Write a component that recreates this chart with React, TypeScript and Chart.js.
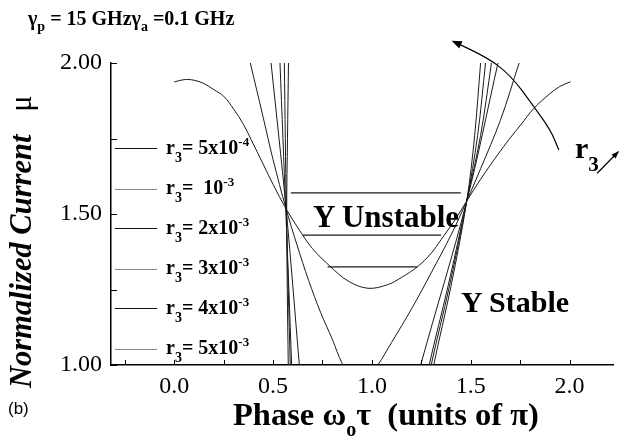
import React, { useEffect, useRef } from 'react';
import { Chart, registerables } from 'chart.js';

Chart.register(...registerables);

const SERIF = '"Liberation Serif", "Times New Roman", serif';
const SANS = '"Liberation Sans", Arial, sans-serif';

// ---- axis ticks ----
const xTickValues = [-0.25, 0, 0.25, 0.5, 0.75, 1, 1.25, 1.5, 1.75, 2];
const yTickValues = [1, 1.25, 1.5, 1.75, 2];

// ---- curves (phase in units of pi, normalized current) ; null = break between branches ----
// r3 = 5x10^-4
const r3_5e4_x = [0.578, 0.578, 0.573, 0.569, 0.572, 0.577, 0.578, 0.95, 1.31, 1.313, 1.40, 1.48, 1.52, 1.55, 1.554];
const r3_5e4_y = [2.03, 2.0, 1.75, 1.517, 1.25, 1.0, 0.97, null, 0.97, 1.0, 1.26, 1.543, 1.76, 2.0, 2.03];
// r3 = 1x10^-3
const r3_1e3_x = [0.556, 0.557, 0.562, 0.567, 0.577, 0.587, 0.588, 0.95, 1.297, 1.30, 1.392, 1.48, 1.535, 1.575, 1.58];
const r3_1e3_y = [2.03, 2.0, 1.75, 1.517, 1.25, 1.0, 0.97, null, 0.97, 1.0, 1.26, 1.543, 1.76, 2.0, 2.03];
// r3 = 2x10^-3
const r3_2e3_x = [0.533, 0.535, 0.55, 0.564, 0.58, 0.594, 0.596, 0.95, 1.287, 1.29, 1.385, 1.48, 1.55, 1.605, 1.611];
const r3_2e3_y = [2.03, 2.0, 1.75, 1.517, 1.25, 1.0, 0.97, null, 0.97, 1.0, 1.26, 1.543, 1.76, 2.0, 2.03];
// r3 = 3x10^-3
const r3_3e3_x = [0.486, 0.49, 0.566, 0.633, 0.637, 0.95, 1.24, 1.247, 1.48, 1.638, 1.648];
const r3_3e3_y = [2.03, 2.0, 1.517, 1.0, 0.97, null, 0.97, 1.0, 1.543, 2.0, 2.03];
// r3 = 4x10^-3
const r3_4e3_x = [0.375, 0.385, 0.45, 0.50, 0.566, 0.62, 0.68, 0.74, 0.80, 0.85, 0.90, 0.94, 0.98, 1.03, 1.10, 1.20, 1.30, 1.40, 1.48, 1.55, 1.65, 1.745, 1.76];
const r3_4e3_y = [2.03, 2.0, 1.82, 1.68, 1.517, 1.40, 1.28, 1.175, 1.085, 1.005, 0.96, 0.945, 0.96, 1.0, 1.075, 1.185, 1.305, 1.43, 1.543, 1.65, 1.81, 2.0, 2.03];
// r3 = 5x10^-3
const r3_5e3_x = [0.0, 0.05, 0.10, 0.15, 0.20, 0.25, 0.30, 0.35, 0.39, 0.45, 0.50, 0.566, 0.63, 0.70, 0.79, 0.88, 0.98, 1.08, 1.15, 1.23, 1.30, 1.35, 1.42, 1.48, 1.55, 1.635, 1.70, 1.753, 1.82, 1.90, 1.95, 2.005];
const r3_5e3_y = [1.937, 1.945, 1.943, 1.932, 1.912, 1.89, 1.848, 1.797, 1.745, 1.665, 1.598, 1.517, 1.45, 1.385, 1.326, 1.278, 1.254, 1.266, 1.29, 1.325, 1.37, 1.415, 1.48, 1.543, 1.615, 1.695, 1.752, 1.795, 1.85, 1.898, 1.922, 1.938];

// ---- horizontal boundary lines in the unstable region ----
const boundLevels = [1.57, 1.43, 1.325];
const boundStart = [0.59, 0.65, 0.776];
const boundEnd = [1.45, 1.35, 1.23];

// ---- legend ----
const legendMantissa = ['5x10', '10', '2x10', '3x10', '4x10', '5x10'];
const legendExponent = ['-4', '-3', '-3', '-3', '-3', '-3'];
const legendDark = [true, false, true, false, true, false];

// ---- annotation arrows (data coordinates) ----
const arcArrowX = [1.414, 1.567, 1.702, 1.82, 1.904, 1.946];
const arcArrowY = [2.07, 2.026, 1.96, 1.855, 1.778, 1.712];
const smallArrowX = [2.14, 2.248];
const smallArrowY = [1.635, 1.707];

const toPoints = (xs: number[], ys: (number | null)[]) => xs.map((x, i) => ({ x, y: ys[i] }));

const curveSets = [
  [r3_5e4_x, r3_5e4_y],
  [r3_1e3_x, r3_1e3_y],
  [r3_2e3_x, r3_2e3_y],
  [r3_3e3_x, r3_3e3_y],
  [r3_4e3_x, r3_4e3_y],
  [r3_5e3_x, r3_5e3_y],
] as [number[], (number | null)[]][];

const isMajor = (v: number) => Math.abs(v * 2 - Math.round(v * 2)) < 1e-6;

function arrowHead(ctx: CanvasRenderingContext2D, fx: number, fy: number, tx: number, ty: number, len: number, half: number) {
  const a = Math.atan2(ty - fy, tx - fx);
  ctx.beginPath();
  ctx.moveTo(tx, ty);
  ctx.lineTo(tx - len * Math.cos(a) + half * Math.sin(a), ty - len * Math.sin(a) - half * Math.cos(a));
  ctx.lineTo(tx - len * Math.cos(a) - half * Math.sin(a), ty - len * Math.sin(a) + half * Math.cos(a));
  ctx.closePath();
  ctx.fill();
}

const decorations = {
  id: 'decorations',
  afterDraw(chart: any) {
    const { ctx, chartArea } = chart;
    const xs = chart.scales.x;
    const ys = chart.scales.y;
    ctx.save();
    ctx.strokeStyle = '#000';
    ctx.fillStyle = '#000';
    ctx.lineWidth = 1;
    // inward tick marks
    xTickValues.forEach((v) => {
      const px = Math.round(xs.getPixelForValue(v)) + 0.5;
      ctx.beginPath();
      ctx.moveTo(px, chartArea.bottom);
      ctx.lineTo(px, chartArea.bottom - 5);
      ctx.stroke();
    });
    yTickValues.forEach((v) => {
      const py = Math.round(ys.getPixelForValue(v)) + 0.5;
      ctx.beginPath();
      ctx.moveTo(chartArea.left, py);
      ctx.lineTo(chartArea.left + 6, py);
      ctx.stroke();
    });
    // curved arrow
    const pts = arcArrowX.map((x, i) => [xs.getPixelForValue(x), ys.getPixelForValue(arcArrowY[i])]);
    ctx.lineWidth = 1.2;
    ctx.beginPath();
    ctx.moveTo(pts[0][0], pts[0][1]);
    for (let i = 1; i < pts.length - 1; i++) {
      const mx = (pts[i][0] + pts[i + 1][0]) / 2;
      const my = (pts[i][1] + pts[i + 1][1]) / 2;
      ctx.quadraticCurveTo(pts[i][0], pts[i][1], mx, my);
    }
    ctx.lineTo(pts[pts.length - 1][0], pts[pts.length - 1][1]);
    ctx.stroke();
    arrowHead(ctx, pts[1][0], pts[1][1], pts[0][0] - 2, pts[0][1] - 1, 10, 4);
    // small arrow next to r3
    const sx0 = xs.getPixelForValue(smallArrowX[0]);
    const sy0 = ys.getPixelForValue(smallArrowY[0]);
    const sx1 = xs.getPixelForValue(smallArrowX[1]);
    const sy1 = ys.getPixelForValue(smallArrowY[1]);
    ctx.beginPath();
    ctx.moveTo(sx0, sy0);
    ctx.lineTo(sx1, sy1);
    ctx.stroke();
    arrowHead(ctx, sx0, sy0, sx1, sy1, 7, 3);
    ctx.restore();
  },
};

const Txt = ({ x, baseline, size, weight = 'normal', italic = false, family = SERIF, children }: any) => (
  <div
    style={{
      position: 'absolute',
      left: x,
      top: baseline - 0.8375 * size,
      fontFamily: family,
      fontSize: size,
      fontWeight: weight,
      fontStyle: italic ? 'italic' : 'normal',
      lineHeight: 1,
      whiteSpace: 'pre',
      color: '#000',
    }}
  >
    {children}
  </div>
);

const Shift = ({ size, dy, children }: any) => (
  <span style={{ fontSize: size, position: 'relative', top: dy }}>{children}</span>
);

export default function App() {
  const ref = useRef<HTMLCanvasElement>(null);

  useEffect(() => {
    const datasets: any[] = curveSets.map(([xs, ys]) => ({
      data: toPoints(xs, ys),
      borderColor: '#1a1a1a',
      borderWidth: 1,
      pointRadius: 0,
      tension: 0.35,
      spanGaps: false,
      fill: false,
    }));
    boundLevels.forEach((lvl, i) => {
      datasets.push({
        data: [
          { x: boundStart[i], y: lvl },
          { x: boundEnd[i], y: lvl },
        ],
        borderColor: '#1a1a1a',
        borderWidth: 1.2,
        pointRadius: 0,
        tension: 0,
        fill: false,
      });
    });

    const chart = new Chart(ref.current as HTMLCanvasElement, {
      type: 'line',
      data: { datasets },
      options: {
        responsive: false,
        maintainAspectRatio: false,
        animation: false,
        events: [],
        layout: { padding: { top: 63, right: 6, left: 0, bottom: 0 } },
        plugins: { legend: { display: false }, tooltip: { enabled: false }, title: { display: false } },
        scales: {
          x: {
            type: 'linear',
            min: -0.32,
            max: 2.22,
            afterBuildTicks: (s: any) => {
              s.ticks = xTickValues.map((v) => ({ value: v }));
            },
            afterFit: (s: any) => {
              s.height = 75;
            },
            ticks: {
              autoSkip: false,
              maxRotation: 0,
              padding: 7,
              color: '#000',
              font: { family: SERIF, size: 24 },
              callback: (v: any) => (isMajor(Number(v)) ? Number(v).toFixed(1) : ''),
            },
            grid: { display: false, drawTicks: false },
            border: { display: true, color: '#000', width: 1.5 },
          },
          y: {
            type: 'linear',
            min: 1,
            max: 2,
            afterBuildTicks: (s: any) => {
              s.ticks = yTickValues.map((v) => ({ value: v }));
            },
            afterFit: (s: any) => {
              s.width = 111;
            },
            ticks: {
              autoSkip: false,
              padding: 9,
              color: '#000',
              font: { family: SERIF, size: 24 },
              callback: (v: any) => (isMajor(Number(v)) ? Number(v).toFixed(2) : ''),
            },
            grid: { display: false, drawTicks: false },
            border: { display: true, color: '#000', width: 1.5 },
          },
        },
      },
      plugins: [decorations],
    } as any);
    return () => chart.destroy();
  }, []);

  return (
    <div style={{ position: 'absolute', left: 0, top: 0, width: 619, height: 440, background: '#fff', overflow: 'hidden' }}>
      <canvas ref={ref} width={619} height={440} style={{ position: 'absolute', left: 0, top: 0, width: 619, height: 440 }} />

      {/* parameter header */}
      <Txt x={28} baseline={25} size={20} weight="bold">
        γ<Shift size={14} dy={6}>p</Shift> = 15 GHzγ<Shift size={14} dy={6}>a</Shift> =0.1 GHz
      </Txt>

      {/* legend */}
      {legendMantissa.map((m, i) => (
        <React.Fragment key={i}>
          <div
            style={{
              position: 'absolute',
              left: 115,
              top: 149 + i * 40 - (legendDark[i] ? 0.75 : 0.5),
              width: 42,
              height: 0,
              borderTop: legendDark[i] ? '1.5px solid #111' : '1px solid #8a8a8a',
            }}
          />
          <Txt x={166} baseline={149 + i * 40 + 5} size={20} weight="bold">
            r<Shift size={14} dy={8}>3</Shift>={i === 1 ? '  ' : ' '}
            {m}
            <Shift size={13} dy={-8}>{legendExponent[i]}</Shift>
          </Txt>
        </React.Fragment>
      ))}

      {/* region labels */}
      <Txt x={313} baseline={227} size={31} weight="bold">Y Unstable</Txt>
      <Txt x={461} baseline={312} size={30} weight="bold">Y Stable</Txt>

      {/* r3 arrow label */}
      <Txt x={575} baseline={158} size={30} weight="bold">
        r<Shift size={21} dy={13}>3</Shift>
      </Txt>

      {/* axis titles */}
      <Txt x={233} baseline={425} size={32.5} weight="bold">
        Phase ω<Shift size={20} dy={11}>o</Shift>τ  (units of π)
      </Txt>
      <div
        style={{
          position: 'absolute',
          left: 0,
          top: 0,
          transform: 'translate(6px, 388px) rotate(-90deg)',
          transformOrigin: '0 0',
          fontFamily: SERIF,
          fontSize: 30.5,
          fontWeight: 'bold',
          fontStyle: 'italic',
          lineHeight: 1,
          whiteSpace: 'pre',
          color: '#000',
        }}
      >
        Normalized Current   <span style={{ fontStyle: 'normal', fontWeight: 'normal' }}>μ</span>
      </div>

      <Txt x={8} baseline={414} size={17} family={SANS}>(b)</Txt>
    </div>
  );
}
